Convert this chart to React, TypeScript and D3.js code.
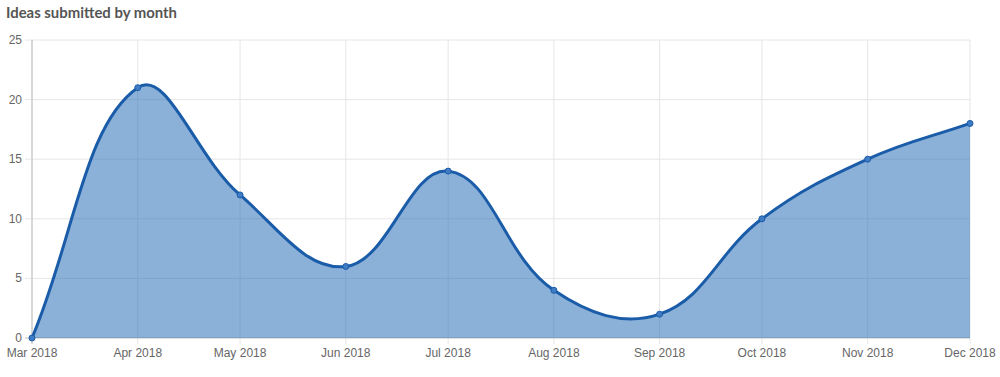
import React from "react";
import * as d3 from "d3";

const months = ["2018-03-01","2018-04-01","2018-05-01","2018-06-01","2018-07-01","2018-08-01","2018-09-01","2018-10-01","2018-11-01","2018-12-01"];
const monthLabels = ["Mar 2018","Apr 2018","May 2018","Jun 2018","Jul 2018","Aug 2018","Sep 2018","Oct 2018","Nov 2018","Dec 2018"];
const ideas = [0, 21, 12, 6, 14, 4, 2, 10, 15, 18];
const yTicks = [0, 5, 10, 15, 20, 25];

const W = 1000, H = 377;
const left = 32, right = 970, top = 40, bottom = 338;

function splinePath(pts: [number, number][], t = 0.4) {
  const cps: { p: [number, number]; n: [number, number] }[] = pts.map((cur, i) => {
    const prev = pts[Math.max(0, i - 1)];
    const next = pts[Math.min(pts.length - 1, i + 1)];
    const d01 = Math.hypot(cur[0] - prev[0], cur[1] - prev[1]);
    const d12 = Math.hypot(next[0] - cur[0], next[1] - cur[1]);
    const s01 = d01 / (d01 + d12 || 1);
    const s12 = d12 / (d01 + d12 || 1);
    const fa = t * s01, fb = t * s12;
    return {
      p: [cur[0] - fa * (next[0] - prev[0]), cur[1] - fa * (next[1] - prev[1])],
      n: [cur[0] + fb * (next[0] - prev[0]), cur[1] + fb * (next[1] - prev[1])],
    };
  });
  const path = d3.path();
  path.moveTo(pts[0][0], pts[0][1]);
  for (let i = 1; i < pts.length; i++) {
    const c1 = cps[i - 1].n, c2 = cps[i].p;
    path.bezierCurveTo(c1[0], c1[1], c2[0], c2[1], pts[i][0], pts[i][1]);
  }
  return path.toString();
}

export default function App() {
  const dates = months.map((m) => new Date(m + "T00:00:00"));
  const x = d3.scaleTime().domain([dates[0], dates[dates.length - 1]]).range([left, right]);
  const y = d3.scaleLinear().domain([0, 25]).range([bottom, top]);
  const pts: [number, number][] = dates.map((d, i) => [x(d), y(ideas[i])]);
  const line = splinePath(pts);
  const area = line + `L${pts[pts.length - 1][0]},${y(0)}L${pts[0][0]},${y(0)}Z`;
  const font = "'Helvetica Neue', Helvetica, Arial, 'Liberation Sans', sans-serif";
  return (
    <svg width={W} height={H} style={{ position: "absolute", left: 0, top: 0, background: "#fff" }}>
      <text x={6} y={18} fontFamily="Lato, sans-serif" fontWeight={700} fontSize={14.9} fill="#555">
        Ideas submitted by month
      </text>
      {yTicks.map((v) => (
        <g key={v}>
          <line x1={left - 7} x2={right} y1={y(v)} y2={y(v)} stroke="#e6e6e6" strokeWidth={1} />
          <text x={22} y={y(v) + 4} textAnchor="end" fontFamily={font} fontSize={12} fill="#666">{v}</text>
        </g>
      ))}
      {dates.map((d, i) => (
        <g key={i}>
          <line x1={x(d)} x2={x(d)} y1={top} y2={bottom + 6} stroke="#e6e6e6" strokeWidth={1} />
          <text x={x(d)} y={357} textAnchor="middle" fontFamily={font} fontSize={12} fill="#666">{monthLabels[i]}</text>
        </g>
      ))}
      <line x1={left} x2={left} y1={top} y2={bottom + 6} stroke="#bbb" strokeWidth={1} />
      <line x1={left - 7} x2={right} y1={bottom} y2={bottom} stroke="#ccc" strokeWidth={1} />
      <path d={area} fill="rgba(25, 100, 180, 0.5)" stroke="none" />
      <path d={line} fill="none" stroke="#1a5ca8" strokeWidth={3} />
      {pts.map((p, i) => (
        <circle key={i} cx={p[0]} cy={p[1]} r={3} fill="#3f7cc4" stroke="#1a5ca8" strokeWidth={1} />
      ))}
    </svg>
  );
}
